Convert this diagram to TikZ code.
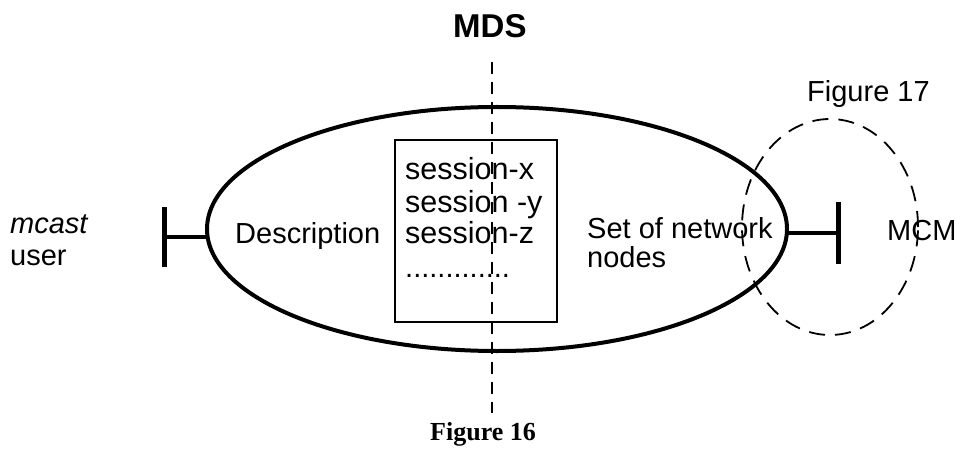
\documentclass[tikz,border=0pt]{standalone}
\usepackage{fontspec}
\setmainfont{Liberation Sans}
\newfontfamily\figserif{Liberation Serif}
\usetikzlibrary{shapes.geometric}
\begin{document}
\begin{tikzpicture}[x=1pt,y=-1pt,
  lbl/.style={inner sep=0pt, anchor=base west, font=\fontsize{29}{31}\selectfont},
  sesslbl/.style={inner sep=0pt, anchor=base west, font=\fontsize{30.5}{31}\selectfont},
  oval/.style={ellipse, draw, line width=4pt, inner sep=0pt},
  listbox/.style={rectangle, draw, line width=1.8pt, inner sep=0pt},
  region/.style={ellipse, draw, line width=1.8pt, dash pattern=on 16pt off 10pt, inner sep=0pt},
  divider/.style={line width=2pt, dash pattern=on 12pt off 8pt},
  teestem/.style={line width=4pt},
  teebar/.style={line width=5pt}]
\useasboundingbox (0,0) rectangle (963,449);

% main service ellipse and session list
\node[oval, minimum width=580pt, minimum height=244pt, outer sep=0pt] (mds) at (497,229) {};
\node[listbox, minimum width=162pt, minimum height=182pt] (list) at (476,231) {};

% split line through the service
\coordinate (splittop) at (492,62);
\coordinate (splitbot) at (492,413);
\draw[divider] (splittop) -- (splitbot);

% region around the MCM side
\node[region, minimum width=176pt, minimum height=216pt] (fig17) at (830,227) {};

% interface tees
\coordinate (lt) at (164,237);
\draw[teestem] (mds.west |- lt) -- (lt);
\draw[teebar] ([yshift=30pt]lt) -- ([yshift=-30pt]lt);
\coordinate (rt) at (838,233);
\draw[teestem] (mds.east |- rt) -- (rt);
\draw[teebar] ([yshift=31pt]rt) -- ([yshift=-31pt]rt);

% labels
\node[inner sep=0pt, anchor=base west, font=\fontsize{33}{35}\selectfont\bfseries] (mdstitle) at (453,38) {MDS};
\node[inner sep=0pt, anchor=base west, font=\fontsize{26}{28}\figserif\bfseries] (fig16) at (430,440) {Figure 16};
\node[lbl] (fig17lbl) at (807,102) {Figure 17};
\node[lbl] (mcast) at (10,233) {\itshape mcast};
\node[lbl] (user) at (10,265) {user};
\node[lbl] (desc) at (235,243) {Description};
\node[lbl] (setnet) at (587,238) {Set of network};
\node[lbl] (nodes) at (587,267) {nodes};
\node[lbl] (mcm) at (887,240) {MCM};
\node[sesslbl] (sx) at (405,180) {session-x};
\node[sesslbl] (sy) at (405,212) {session -y};
\node[sesslbl] (sz) at (405,243) {session-z};
\node[lbl] (dots) at (405,277) {.............};
\end{tikzpicture}
\end{document}
